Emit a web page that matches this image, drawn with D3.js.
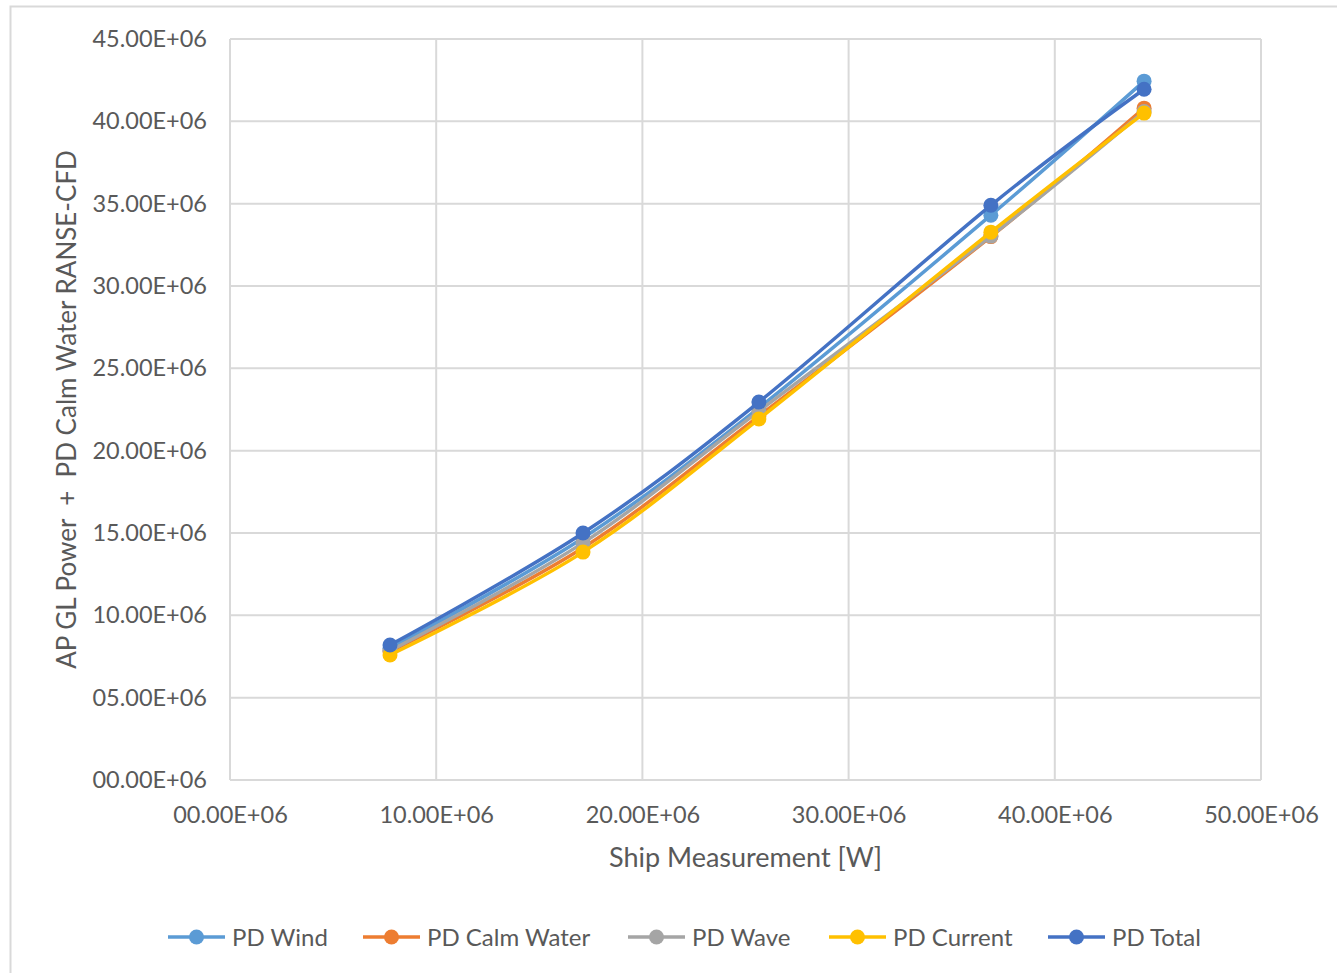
<!DOCTYPE html>
<html>
<head>
<meta charset="utf-8">
<script src="https://cdn.jsdelivr.net/npm/d3@7"></script>
<style>
  html, body { margin: 0; padding: 0; background: #ffffff; }
  svg { display: block; }
  text { font-family: Lato, "Open Sans", "Noto Sans", sans-serif; fill: #595959; }
</style>
</head>
<body>
<svg id="chart" width="1337" height="973"></svg>
<script>
// Measured ship power (x) against predicted power (y), one series per component
const xValues = [7.76e6, 17.12e6, 25.65e6, 36.9e6, 44.33e6];
const pdWind = [8.0e6, 14.7e6, 22.6e6, 34.3e6, 42.44e6];
const pdCalmWater = [7.8e6, 14.1e6, 22.1e6, 33.0e6, 40.8e6];
const pdWave = [7.85e6, 14.4e6, 22.4e6, 33.03e6, 40.6e6];
const pdCurrent = [7.59e6, 13.84e6, 21.92e6, 33.27e6, 40.5e6];
const pdTotal = [8.2e6, 15.0e6, 22.95e6, 34.9e6, 41.95e6];

const seriesNames = ["PD Wind", "PD Calm Water", "PD Wave", "PD Current", "PD Total"];
const seriesValues = [pdWind, pdCalmWater, pdWave, pdCurrent, pdTotal];
const seriesColors = ["#5B9BD5", "#ED7D31", "#A5A5A5", "#FFC000", "#4472C4"];

const xTicks = [0, 10e6, 20e6, 30e6, 40e6, 50e6];
const yTicks = [0, 5e6, 10e6, 15e6, 20e6, 25e6, 30e6, 35e6, 40e6, 45e6];

const xTitle = "Ship Measurement [W]";
const yTitle = "AP GL Power  +  PD Calm Water RANSE-CFD";

const svg = d3.select("#chart");
const plot = { left: 230, right: 1261, top: 39, bottom: 780 };

// Outer chart frame
svg.append("rect")
  .attr("x", 10.5).attr("y", 6.5)
  .attr("width", 1340).attr("height", 980)
  .attr("fill", "#fff").attr("stroke", "#D9D9D9").attr("stroke-width", 2);

const x = d3.scaleLinear().domain([0, 50e6]).range([plot.left, plot.right]);
const y = d3.scaleLinear().domain([0, 45e6]).range([plot.bottom, plot.top]);

// Format as "45.00E+06"
const fmt = v => {
  const m = v / 1e6;
  const s = m.toFixed(2);
  return (m < 10 ? "0" + s : s) + "E+06";
};

// Gridlines
const grid = svg.append("g");
grid.selectAll("line.v").data(xTicks).join("line")
  .attr("x1", d => x(d)).attr("x2", d => x(d))
  .attr("y1", plot.top).attr("y2", plot.bottom)
  .attr("stroke", "#D9D9D9").attr("stroke-width", 2);
grid.selectAll("line.h").data(yTicks).join("line")
  .attr("x1", plot.left).attr("x2", plot.right)
  .attr("y1", d => y(d)).attr("y2", d => y(d))
  .attr("stroke", "#D9D9D9").attr("stroke-width", 2);

// Axes (labels only; lines come from the grid)
const xAxis = svg.append("g")
  .attr("transform", `translate(0,${plot.bottom})`)
  .call(d3.axisBottom(x).tickValues(xTicks).tickFormat(fmt).tickSize(0).tickPadding(26));
const yAxis = svg.append("g")
  .attr("transform", `translate(${plot.left},0)`)
  .call(d3.axisLeft(y).tickValues(yTicks).tickFormat(fmt).tickSize(0).tickPadding(23));
[xAxis, yAxis].forEach(g => {
  g.select(".domain").remove();
  g.selectAll("text").attr("font-size", 23.5).attr("fill", "#595959")
    .attr("font-family", "Lato, 'Open Sans', sans-serif");
});

// Axis titles
svg.append("text")
  .attr("x", (plot.left + plot.right) / 2).attr("y", 867)
  .attr("text-anchor", "middle").attr("font-size", 27)
  .text(xTitle);
svg.append("text")
  .attr("transform", `translate(76,${(plot.top + plot.bottom) / 2}) rotate(-90)`)
  .attr("text-anchor", "middle").attr("font-size", 26)
  .style("white-space", "pre")
  .text(yTitle);

// Smoothed series lines with markers
const line = d3.line()
  .x((d, i) => x(xValues[i]))
  .y(d => y(d))
  .curve(d3.curveCatmullRom.alpha(0));

const series = svg.append("g").selectAll("g").data(seriesValues).join("g");
series.append("path")
  .attr("d", d => line(d))
  .attr("fill", "none")
  .attr("stroke", (d, i) => seriesColors[i])
  .attr("stroke-width", 3.5)
  .attr("stroke-linecap", "round");
series.each(function (vals, si) {
  d3.select(this).selectAll("circle").data(vals).join("circle")
    .attr("cx", (d, i) => x(xValues[i]))
    .attr("cy", d => y(d))
    .attr("r", 7.5)
    .attr("fill", seriesColors[si]);
});

// Legend
const legendX = [168, 363, 628, 829, 1048];
const legend = svg.append("g").selectAll("g").data(seriesNames).join("g")
  .attr("transform", (d, i) => `translate(${legendX[i]},937)`);
legend.append("line")
  .attr("x1", 0).attr("x2", 57).attr("y1", 0).attr("y2", 0)
  .attr("stroke", (d, i) => seriesColors[i]).attr("stroke-width", 3.5);
legend.append("circle")
  .attr("cx", 28.5).attr("cy", 0).attr("r", 7.5)
  .attr("fill", (d, i) => seriesColors[i]);
legend.append("text")
  .attr("x", 64).attr("y", 8.5)
  .attr("font-size", 24)
  .text(d => d);
</script>
</body>
</html>
